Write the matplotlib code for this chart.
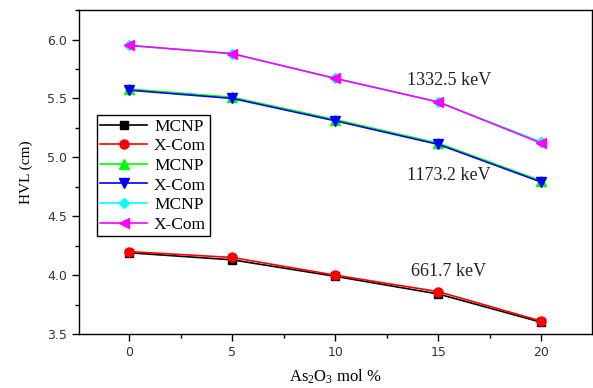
import matplotlib
matplotlib.use("Agg")
import matplotlib.pyplot as plt
from matplotlib.ticker import MultipleLocator

x = [0, 5, 10, 15, 20]
mcnp_661 = [4.19, 4.13, 3.99, 3.84, 3.60]
xcom_661 = [4.20, 4.15, 4.00, 3.86, 3.61]
mcnp_1173 = [5.58, 5.51, 5.32, 5.12, 4.80]
xcom_1173 = [5.57, 5.50, 5.31, 5.11, 4.79]
mcnp_1332 = [5.95, 5.88, 5.67, 5.47, 5.13]
xcom_1332 = [5.95, 5.88, 5.67, 5.47, 5.12]
labels = ["MCNP", "X-Com", "MCNP", "X-Com", "MCNP", "X-Com"]
energy_labels = ["661.7 keV", "1173.2 keV", "1332.5 keV"]

plt.rcParams["mathtext.fontset"] = "custom"
plt.rcParams["mathtext.rm"] = "Liberation Serif"
plt.rcParams["mathtext.it"] = "Liberation Serif:italic"

fig = plt.figure(figsize=(5.93, 3.88), dpi=100)
ax = fig.add_axes([0.133, 0.139, 0.865, 0.835])

series = [mcnp_661, xcom_661, mcnp_1173, xcom_1173, mcnp_1332, xcom_1332]
colors = ["black", "red", "#00ff00", "blue", "cyan", "magenta"]
markers = ["s", "o", "^", "v", "D", "<"]
sizes = [5.5, 6.5, 6.5, 6.5, 5.5, 7]
for y, c, m, ms, lab in zip(series, colors, markers, sizes, labels):
    ax.plot(x, y, color=c, marker=m, markersize=ms, lw=1.2, label=lab)

ax.set_xlim(-2.45, 22.45)
ax.set_ylim(3.5, 6.25)
ax.xaxis.set_major_locator(MultipleLocator(5))
ax.xaxis.set_minor_locator(MultipleLocator(2.5))
ax.yaxis.set_major_locator(MultipleLocator(0.5))
ax.yaxis.set_minor_locator(MultipleLocator(0.25))
ax.tick_params(which="both", direction="out", top=False, right=False,
               labelsize=9, labelcolor="#333333")
ax.tick_params(which="major", length=5, width=1)
ax.tick_params(which="minor", length=3, width=1)
for sp in ax.spines.values():
    sp.set_linewidth(1.0)

serif = "Liberation Serif"
ax.set_ylabel("HVL (cm)", fontfamily=serif, fontsize=11, labelpad=10)
ax.set_xlabel(r"As$_\mathrm{2}$O$_\mathrm{3}$ mol %", fontfamily=serif, fontsize=12, labelpad=6)

ax.text(15.5, 5.65, energy_labels[2], fontfamily=serif, fontsize=13, color="#222222", ha="center", va="center")
ax.text(15.5, 4.85, energy_labels[1], fontfamily=serif, fontsize=13, color="#222222", ha="center", va="center")
ax.text(15.5, 4.03, energy_labels[0], fontfamily=serif, fontsize=13, color="#222222", ha="center", va="center")

leg = ax.legend(loc="upper left", bbox_to_anchor=(0.035, 0.676), prop={"family": serif, "size": 12.5},
                frameon=True, fancybox=False, edgecolor="black", framealpha=1,
                handlelength=2.7, handletextpad=0.4, labelspacing=0.2,
                borderpad=0.2, borderaxespad=0)
leg.get_frame().set_linewidth(1.0)

fig.savefig("out.png", dpi=100)
